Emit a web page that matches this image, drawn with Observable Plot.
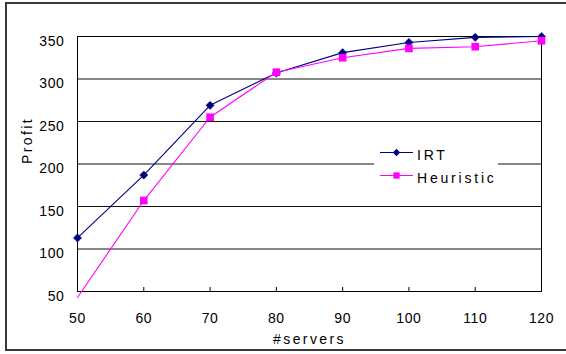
<!DOCTYPE html>
<html>
<head>
<meta charset="utf-8">
<script src="https://cdn.jsdelivr.net/npm/d3@7"></script>
<script src="https://cdn.jsdelivr.net/npm/@observablehq/plot@0.6"></script>
<style>
  html, body { margin: 0; padding: 0; overflow: hidden; background: #fff; width: 566px; height: 354px; }
  #wrap { position: relative; width: 566px; height: 354px; }
  #border { position: absolute; left: 5px; top: 2px; width: 700px; height: 345px; border: 2px solid #3a3a3a; pointer-events: none; }
  #chart { position: absolute; left: 0; top: 0; }
  #chart svg { font-family: "Liberation Sans", Arial, sans-serif; }
  g[aria-label="x-axis tick label"] text, g[aria-label="y-axis tick label"] text { letter-spacing: 0.6px; }
  g[aria-label="text"] text { letter-spacing: 2.4px; }
  #legend { position: absolute; left: 374px; top: 140px; width: 124px; height: 46px; background: #fff; }
  #legend text { font-family: "Liberation Sans", Arial, sans-serif; font-size: 14px; letter-spacing: 2.8px; }
</style>
</head>
<body>
<div id="wrap">
  <div id="chart"></div>
  <div id="legend"></div>
  <div id="border"></div>
</div>
<script>
// Number of servers on the horizontal axis
const servers = [50, 60, 70, 80, 90, 100, 110, 120];
// Profit of each method
const irt = [113, 187, 269, 307, 331, 343, 349, 350];
const heuristic = [43, 157, 255, 308, 325, 336, 338, 345];
// Axis ticks
const yTicks = [50, 100, 150, 200, 250, 300, 350];
const xTicks = [50, 60, 70, 80, 90, 100, 110, 120];
const seriesNames = ["IRT", "Heuristic"];
const seriesColors = ["#000080", "#ff00ff"];
const xTitle = "#servers";
const yTitle = "Profit";

const rows = [];
servers.forEach((s, i) => {
  rows.push({servers: s, profit: irt[i], series: seriesNames[0]});
});
servers.forEach((s, i) => {
  rows.push({servers: s, profit: heuristic[i], series: seriesNames[1]});
});
const irtRows = rows.filter(d => d.series === seriesNames[0]);
const heuRows = rows.filter(d => d.series === seriesNames[1]);
// markers below the axis minimum are not drawn
const inRange = d => d.profit >= 50;

const chart = Plot.plot({
  width: 566,
  height: 354,
  marginLeft: 77,
  marginRight: 25,
  marginTop: 36,
  marginBottom: 63,
  style: {fontSize: "14px", fontFamily: "'Liberation Sans', Arial, sans-serif", color: "#000", background: "transparent"},
  x: {domain: [50, 120]},
  y: {domain: [50, 350]},
  marks: [
    Plot.ruleY(yTicks, {stroke: "#111", strokeWidth: 1}),
    Plot.tickX(xTicks, {x: d => d, stroke: "#000", insetTop: 251}),
    Plot.frame({stroke: "#000"}),
    Plot.axisY(yTicks, {tickSize: 0, tickPadding: 13, dy: 5, label: null, fontSize: 14}),
    Plot.axisX(xTicks, {tickSize: 0, tickPadding: 22, label: null, fontSize: 14}),
    Plot.line(irtRows, {x: "servers", y: "profit", stroke: seriesColors[0], strokeWidth: 1.1}),
    Plot.dot(irtRows.filter(inRange), {x: "servers", y: "profit", symbol: "diamond2", r: 3.7, fill: seriesColors[0], stroke: seriesColors[0], strokeWidth: 0.5}),
    Plot.line(heuRows, {x: "servers", y: "profit", stroke: seriesColors[1], strokeWidth: 1.1}),
    Plot.dot(heuRows.filter(inRange), {x: "servers", y: "profit", symbol: "square", r: 4.3, fill: seriesColors[1], stroke: "none"}),
    Plot.text([xTitle], {frameAnchor: "bottom", dy: 52, fontSize: 14, fill: "#000"}),
    Plot.text([yTitle], {frameAnchor: "left", dx: -50, rotate: -90, fontSize: 14, fill: "#000"})
  ]
});
document.getElementById("chart").appendChild(chart);

// Legend: line sample with marker, then series name
const lg = d3.select("#legend").append("svg").attr("width", 124).attr("height", 46);
const rowY = [12, 35];
const shapes = [d3.symbolDiamond2, d3.symbolSquare];
const shapeSize = [34, 40];
seriesNames.forEach((name, i) => {
  const g = lg.append("g");
  g.append("line").attr("x1", 6).attr("x2", 39).attr("y1", rowY[i] + 0.5).attr("y2", rowY[i] + 0.5)
    .attr("stroke", seriesColors[i]).attr("stroke-width", 1.1);
  g.append("path").attr("d", d3.symbol(shapes[i], shapeSize[i])())
    .attr("transform", `translate(22.5,${rowY[i] + 0.5})`).attr("fill", seriesColors[i]);
  g.append("text").attr("x", 43).attr("y", rowY[i] + 8).text(name);
});
</script>
</body>
</html>
